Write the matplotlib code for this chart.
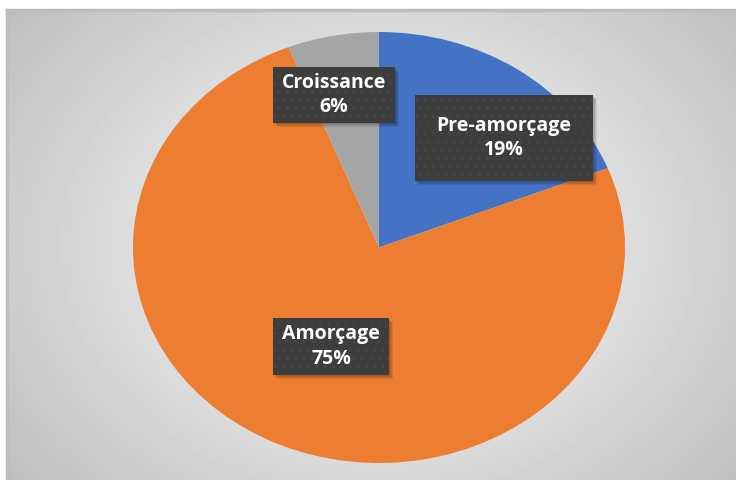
import matplotlib.pyplot as plt
import numpy as np
from matplotlib.patches import Rectangle

labels = ["Pre-amorçage", "Amorçage", "Croissance"]
values = [19, 75, 6]
colors = ["#4472C4", "#ED7D31", "#A5A5A5"]
pct_text = ["19%", "75%", "6%"]

plt.rcParams["hatch.color"] = "#474747"
plt.rcParams["hatch.linewidth"] = 0.8

W, H = 736, 480
fig = plt.figure(figsize=(W / 100, H / 100), dpi=100)
fig.patch.set_facecolor("white")

# background with radial gradient
bg = fig.add_axes([7 / W, 0, 1 - 7 / W, 1 - 10 / H])
yy, xx = np.mgrid[0:470, 0:729]
cx, cy = 371, 235
r = np.sqrt(((xx - cx) / 430.0) ** 2 + ((yy - cy) / 340.0) ** 2)
shade = 0.96 - 0.19 * r ** 1.3
bg.imshow(shade, cmap="gray", vmin=0, vmax=1, aspect="auto", interpolation="bilinear")
bg.set_axis_off()
# border lines top and left
fig.add_artist(plt.Line2D([7 / W, 1], [1 - 10 / H, 1 - 10 / H], color="#bdbdbd", lw=2.5,
                          transform=fig.transFigure))
fig.add_artist(plt.Line2D([7 / W, 7 / W], [0, 1 - 10 / H], color="#bdbdbd", lw=2.5,
                          transform=fig.transFigure))

# pie drawn as ellipse
ax = fig.add_axes([133 / W, (H - 463) / H, 492 / W, 431 / H])
ax.pie(values, colors=colors, startangle=90, counterclock=False,
       wedgeprops=dict(linewidth=0))
ax.set_aspect("auto")
ax.set_xlim(-1, 1)
ax.set_ylim(-1, 1)
ax.set_axis_off()

# label boxes (pixel coords: x0, y0, x1, y1 from top-left)
boxes = [(415, 95, 593, 181), (273, 318, 389, 375), (273, 67, 395, 123)]
for i, (x0, y0, x1, y1) in enumerate(boxes):
    fx, fy = x0 / W, (H - y1) / H
    fw, fh = (x1 - x0) / W, (y1 - y0) / H
    for k in range(4):
        d = 1 + k
        fig.add_artist(Rectangle((fx + d / W, fy - d / H), fw, fh, transform=fig.transFigure,
                                 facecolor="black", alpha=0.08, lw=0))
    fig.add_artist(Rectangle((fx, fy), fw, fh, transform=fig.transFigure,
                             facecolor="#3d3d3d", hatch="..", lw=0))
    xc = (x0 + x1) / 2 / W
    yc = (H - (y0 + y1) / 2) / H
    fig.text(xc, yc, labels[i] + "\n" + pct_text[i], ha="center", va="center",
             color="white", fontsize=14, fontweight="bold", family="Open Sans",
             linespacing=1.3)

fig.savefig("out.png", dpi=100)
